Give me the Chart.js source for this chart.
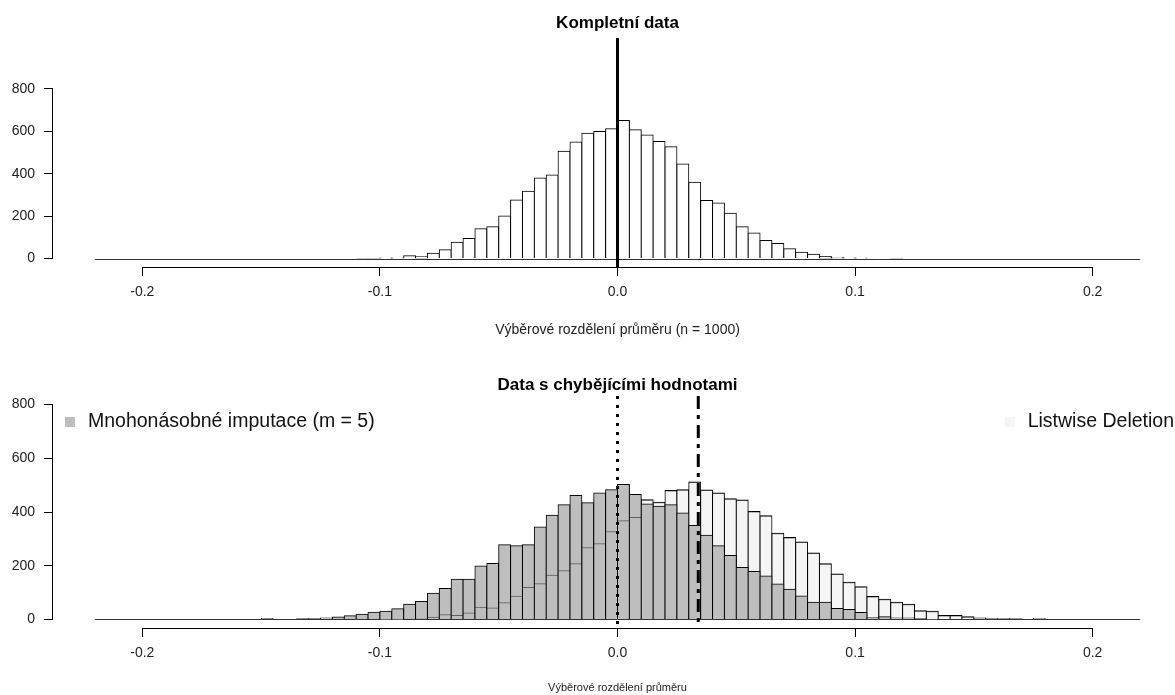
<!DOCTYPE html>
<html lang="cs">
<head>
<meta charset="utf-8">
<title>Výběrové rozdělení průměru</title>
<script src="https://cdn.jsdelivr.net/npm/chart.js@4.4.1/dist/chart.umd.min.js"></script>
<style>
  html, body { margin: 0; padding: 0; background: #fff; overflow: hidden; }
  body { width: 1175px; height: 695px; position: relative; }
  canvas { position: absolute; left: 0; }
  #chart-complete { top: 0; }
  #chart-missing { top: 347px; }
</style>
</head>
<body>
<canvas id="chart-complete" width="1200" height="347"></canvas>
<canvas id="chart-missing" width="1200" height="348"></canvas>
<script>
/* ---------- data ---------- */
const X_TICKS       = [-0.2, -0.1, 0, 0.1, 0.2];
const X_TICK_LABELS = ['-0.2', '-0.1', '0.0', '0.1', '0.2'];
const Y_TICKS       = [0, 200, 400, 600, 800];
const Y_TICK_LABELS = ['0', '200', '400', '600', '800'];

// top panel: complete data, bin mid points (width 0.005)
const COMPLETE_BINS = [
  -0.1075, -0.1025, -0.0975, -0.0925, -0.0875, -0.0825, -0.0775, -0.0725, -0.0675, -0.0625,
  -0.0575, -0.0525, -0.0475, -0.0425, -0.0375, -0.0325, -0.0275, -0.0225, -0.0175, -0.0125,
  -0.0075, -0.0025, 0.0025, 0.0075, 0.0125, 0.0175, 0.0225, 0.0275, 0.0325, 0.0375,
  0.0425, 0.0475, 0.0525, 0.0575, 0.0625, 0.0675, 0.0725, 0.0775, 0.0825, 0.0875,
  0.0925, 0.0975, 0.1025, 0.1075, 0.1125, 0.1175
];
const COMPLETE_COUNTS = [
  2, 2, 3, 3, 13, 8, 25, 41, 77, 95,
  140, 150, 200, 276, 317, 380, 394, 506, 549, 591,
  599, 612, 651, 607, 583, 552, 527, 446, 360, 274,
  262, 214, 150, 120, 85, 71, 46, 30, 20, 9,
  5, 3, 3, 0, 0, 2
];
const COMPLETE_MEAN = 0;

// bottom panel: data with missing values
const MISSING_BINS = [
  -0.1475, -0.1425, -0.1375, -0.1325, -0.1275, -0.1225, -0.1175, -0.1125, -0.1075, -0.1025,
  -0.0975, -0.0925, -0.0875, -0.0825, -0.0775, -0.0725, -0.0675, -0.0625, -0.0575, -0.0525,
  -0.0475, -0.0425, -0.0375, -0.0325, -0.0275, -0.0225, -0.0175, -0.0125, -0.0075, -0.0025,
  0.0025, 0.0075, 0.0125, 0.0175, 0.0225, 0.0275, 0.0325, 0.0375, 0.0425, 0.0475,
  0.0525, 0.0575, 0.0625, 0.0675, 0.0725, 0.0775, 0.0825, 0.0875, 0.0925, 0.0975,
  0.1025, 0.1075, 0.1125, 0.1175, 0.1225, 0.1275, 0.1325, 0.1375, 0.1425, 0.1475,
  0.1525, 0.1575, 0.1625, 0.1675, 0.1725, 0.1775
];
const MI_COUNTS = [
  3, 0, 0, 2, 2, 5, 9, 14, 19, 27,
  30, 40, 56, 67, 97, 115, 150, 150, 199, 208,
  278, 274, 278, 344, 388, 427, 461, 434, 471, 483,
  502, 465, 430, 421, 427, 396, 350, 313, 274, 238,
  193, 178, 162, 132, 112, 87, 64, 64, 41, 37,
  26, 6, 10, 5, 5, 2, 1, 0, 0, 0,
  0, 0, 0, 0, 0, 0
];
const LD_COUNTS = [
  0, 0, 0, 0, 0, 0, 0, 0, 0, 0,
  1, 1, 2, 4, 10, 19, 16, 26, 47, 44,
  64, 88, 121, 135, 166, 183, 209, 269, 284, 328,
  369, 381, 446, 436, 480, 483, 512, 482, 471, 449,
  445, 402, 386, 321, 305, 288, 247, 207, 169, 138,
  122, 85, 75, 64, 56, 32, 30, 15, 15, 10,
  5, 2, 2, 2, 0, 3
];
const MI_MEAN = 0;
const LD_MEAN = 0.034;

const BASELINE_RANGE = [-0.22, 0.22];
const X_MIN = -0.2376, X_MAX = 0.2376;

/* ---------- styling ---------- */
const FONT = '"Liberation Sans", Arial, Helvetica, sans-serif';
Chart.defaults.font.family = FONT;
Chart.defaults.color = '#222';

const MI_FILL = '#bebebe';
const LD_FILL = '#f5f5f5';

// R-like title, axes, baseline, mean lines and legend
const rStylePlugin = {
  id: 'rStyle',
  beforeDatasetsDraw(chart, args, opts) {
    const { ctx } = chart;
    const x = chart.scales.x, y = chart.scales.y;
    const y0 = Math.round(y.getPixelForValue(0)) + 0.5;
    ctx.save();
    ctx.strokeStyle = '#333';
    ctx.lineWidth = 1;
    ctx.beginPath();
    ctx.moveTo(x.getPixelForValue(BASELINE_RANGE[0]), y0);
    ctx.lineTo(x.getPixelForValue(BASELINE_RANGE[1]), y0);
    ctx.stroke();
    ctx.restore();
  },
  afterDatasetsDraw(chart, args, opts) {
    const { ctx, chartArea } = chart;
    const x = chart.scales.x;
    ctx.save();
    ctx.beginPath();
    ctx.rect(chartArea.left, chartArea.top, chartArea.width, chartArea.height);
    ctx.clip();
    (opts.vlines || []).forEach(l => {
      const px = x.getPixelForValue(l.value);
      ctx.beginPath();
      ctx.setLineDash(l.dash ? Array.from(l.dash) : []);
      ctx.lineWidth = l.width;
      ctx.strokeStyle = '#000';
      ctx.moveTo(px, chartArea.top);
      ctx.lineTo(px, chartArea.bottom);
      ctx.stroke();
    });
    ctx.restore();
  },
  afterDraw(chart, args, opts) {
    const { ctx, chartArea } = chart;
    const x = chart.scales.x, y = chart.scales.y;
    ctx.save();
    ctx.strokeStyle = '#000';
    ctx.lineWidth = 1;
    ctx.beginPath();
    const ay = Math.round(chartArea.bottom) + 0.5;
    ctx.moveTo(x.getPixelForValue(X_TICKS[0]), ay);
    ctx.lineTo(x.getPixelForValue(X_TICKS[X_TICKS.length - 1]), ay);
    const ax = Math.round(chartArea.left) - 0.5;
    ctx.moveTo(ax, y.getPixelForValue(Y_TICKS[0]));
    ctx.lineTo(ax, y.getPixelForValue(Y_TICKS[Y_TICKS.length - 1]));
    ctx.stroke();

    // main title, centred over the plot region like R does
    ctx.font = 'bold 17px ' + FONT;
    ctx.fillStyle = '#000';
    ctx.textAlign = 'center';
    ctx.textBaseline = 'middle';
    ctx.fillText(opts.title, (chartArea.left + chartArea.right) / 2, chartArea.top - opts.titleGap);

    if (opts.legend) {
      ctx.font = '19.5px ' + FONT;
      ctx.textAlign = 'left';
      const ly = chartArea.top + 26;
      Array.from(opts.legend).forEach(item => {
        const w = ctx.measureText(item.text).width;
        const tx = item.side === 'left' ? chartArea.left + 35 : chartArea.right - 8 - w;
        ctx.fillStyle = item.fill;
        ctx.fillRect(tx - 23, ly - 5, 10, 10);
        ctx.fillStyle = '#111';
        ctx.fillText(item.text, tx, ly);
      });
    }
    ctx.restore();
  }
};

function histScales(yMin, yMax, xTitle, xTitleSize, xAxisHeight, xTitlePad) {
  return {
    x: {
      type: 'linear',
      min: X_MIN,
      max: X_MAX,
      offset: false,
      afterBuildTicks: s => { s.ticks = X_TICKS.map(v => ({ value: v })); },
      afterFit: s => { s.height = xAxisHeight; },
      grid: { drawOnChartArea: false, drawTicks: true, tickLength: 9, color: '#000', offset: false },
      border: { display: false },
      ticks: {
        autoSkip: false, maxRotation: 0, padding: 8, color: '#222',
        font: { size: 14 },
        callback: (v, i) => X_TICK_LABELS[i],
      },
      title: {
        display: true, text: xTitle, color: '#222',
        font: { size: xTitleSize },
        padding: { top: 0, bottom: xTitlePad },
      },
    },
    y: {
      min: yMin,
      max: yMax,
      afterBuildTicks: s => { s.ticks = Y_TICKS.map(v => ({ value: v })); },
      afterFit: s => { s.width = 53; },
      grid: { drawOnChartArea: false, drawTicks: true, tickLength: 9, color: '#000' },
      border: { display: false },
      ticks: {
        padding: 9, color: '#222',
        font: { size: 14 },
        callback: (v, i) => Y_TICK_LABELS[i],
      },
    },
  };
}

// opaque histogram bars; inflate 0.5 makes neighbours share one 1px outline like R's hist()
function barSet(bins, counts, fill, order) {
  return {
    data: bins.map((b, i) => ({ x: b, y: counts[i] })),
    backgroundColor: fill,
    borderColor: '#000',
    borderWidth: 1,
    barPercentage: 1,
    categoryPercentage: 1,
    inflateAmount: 0.5,
    grouped: false,
    order: order,
  };
}

// only the top edge of the bars, half transparent, so it shows through the bars in front
function topEdgeSet(bins, counts, order) {
  return {
    data: bins.map((b, i) => ({ x: b, y: counts[i] })),
    backgroundColor: 'rgba(0,0,0,0)',
    borderColor: 'rgba(0,0,0,0.5)',
    borderWidth: { top: 1, left: 0, right: 0, bottom: 0 },
    barPercentage: 1,
    categoryPercentage: 1,
    inflateAmount: 0,
    grouped: false,
    order: order,
  };
}

new Chart(document.getElementById('chart-complete'), {
  type: 'bar',
  data: { datasets: [barSet(COMPLETE_BINS, COMPLETE_COUNTS, '#fff', 0)] },
  options: {
    responsive: false,
    animation: false,
    layout: { padding: { left: 0, right: 18, top: 38, bottom: 0 } },
    scales: histScales(-40, 1040, 'Výběrové rozdělení průměru (n = 1000)', 14, 80, 8),
    plugins: {
      legend: { display: false },
      tooltip: { enabled: false },
      title: { display: false },
      rStyle: {
        title: 'Kompletní data',
        titleGap: 15,
        vlines: [{ value: COMPLETE_MEAN, width: 3 }],
      },
    },
  },
  plugins: [rStylePlugin],
});

new Chart(document.getElementById('chart-missing'), {
  type: 'bar',
  data: {
    datasets: [
      barSet(MISSING_BINS, LD_COUNTS, LD_FILL, 2),
      barSet(MISSING_BINS, MI_COUNTS, MI_FILL, 1),
      topEdgeSet(MISSING_BINS, LD_COUNTS, 0),
    ],
  },
  options: {
    responsive: false,
    animation: false,
    layout: { padding: { left: 0, right: 18, top: 49, bottom: 0 } },
    scales: histScales(-32, 832, 'Výběrové rozdělení průměru', 11, 67, 0),
    plugins: {
      legend: { display: false },
      tooltip: { enabled: false },
      title: { display: false },
      rStyle: {
        title: 'Data s chybějícími hodnotami',
        titleGap: 11,
        vlines: [
          { value: MI_MEAN, width: 3, dash: [3, 6] },
          { value: LD_MEAN, width: 3, dash: [13, 6, 4, 6] },
        ],
        legend: [
          { text: 'Mnohonásobné imputace (m = 5)', fill: MI_FILL, side: 'left' },
          { text: 'Listwise Deletion', fill: LD_FILL, side: 'right' },
        ],
      },
    },
  },
  plugins: [rStylePlugin],
});
</script>
</body>
</html>
